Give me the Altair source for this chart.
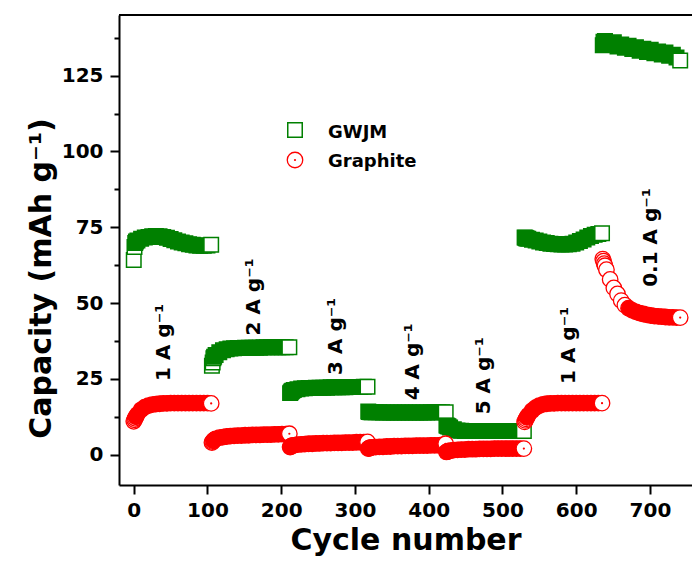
import altair as alt
import pandas as pd

GREEN = "#008000"
RED = "#ff0000"
FONT = "DejaVu Sans"

# ---- data ----
STAGE_LEN = 106
OFFSETS = [0, 1, 2, 3, 5, 10, 15, 20, 25, 30, 35, 40, 45, 50, 55, 60, 65, 70,
           75, 80, 85, 90, 95, 100, 105]

GWJM_S1 = [64.2, 68.5, 69.8, 70.3, 70.6, 71.2, 71.6, 71.8, 72.0, 72.1, 72.0, 71.8, 71.5,
           71.1, 70.7, 70.3, 70.0, 69.7, 69.4, 69.2, 69.0, 68.9, 68.9, 69.0, 69.2]
GWJM_S2 = [29.3, 30.4, 31.8, 32.3, 32.9, 33.8, 34.4, 34.8, 35.0, 35.1, 35.2, 35.2, 35.3,
           35.3, 35.3, 35.3, 35.3, 35.4, 35.4, 35.4, 35.4, 35.4, 35.4, 35.4, 35.4]
GWJM_S3 = [20.3, 20.6, 20.9, 21.1, 21.3, 21.6, 21.8, 21.9, 22.0, 22.0, 22.1, 22.1, 22.1,
           22.1, 22.2, 22.2, 22.2, 22.2, 22.2, 22.3, 22.3, 22.3, 22.3, 22.4, 22.4]
GWJM_S4 = [14.2, 14.1, 14.1, 14.0, 14.0, 14.0, 14.0, 13.9, 13.9, 13.9, 13.9, 13.9, 13.9,
           13.9, 13.9, 13.9, 13.9, 13.9, 13.9, 13.9, 14.0, 14.0, 14.0, 14.0, 14.0]
GWJM_S5 = [9.6, 9.5, 9.4, 9.3, 9.0, 8.4, 8.0, 7.9, 7.8, 7.8, 7.8, 7.8, 7.8,
           7.8, 7.8, 7.8, 7.8, 7.8, 7.8, 7.8, 7.8, 7.8, 7.8, 7.8, 7.8]
GWJM_S6 = [71.6, 71.5, 71.4, 71.3, 71.2, 70.9, 70.6, 70.3, 70.0, 69.8, 69.6, 69.5, 69.4,
           69.3, 69.3, 69.4, 69.6, 70.0, 70.5, 71.0, 71.6, 72.1, 72.5, 72.8, 73.0]
GWJM_S7 = [135.0, 136.2, 135.5, 136.4, 135.8, 135.2, 136.0, 134.6, 135.3, 134.2, 134.9, 133.8, 134.4,
           133.2, 133.9, 132.8, 133.5, 132.4, 133.0, 132.0, 132.6, 131.6, 131.9, 131.0, 130.0]

GRAPHITE_S1 = [11.0, 11.5, 12.0, 12.5, 13.3, 14.8, 15.7, 16.2, 16.5, 16.7, 16.8, 16.9, 16.9,
               17.0, 17.0, 17.0, 17.0, 17.0, 17.0, 17.0, 17.0, 17.0, 17.0, 17.0, 16.9]
GRAPHITE_S2 = [4.0, 4.3, 4.6, 4.9, 5.2, 5.6, 5.8, 6.0, 6.1, 6.2, 6.3, 6.3, 6.4,
               6.4, 6.5, 6.5, 6.5, 6.6, 6.6, 6.6, 6.7, 6.7, 6.8, 6.8, 6.9]
GRAPHITE_S3 = [2.5, 2.7, 2.9, 3.0, 3.1, 3.3, 3.4, 3.5, 3.6, 3.6, 3.7, 3.7, 3.8,
               3.8, 3.8, 3.9, 3.9, 3.9, 4.0, 4.0, 4.0, 4.1, 4.1, 4.1, 4.2]
GRAPHITE_S4 = [2.0, 2.1, 2.2, 2.3, 2.4, 2.5, 2.6, 2.6, 2.7, 2.7, 2.8, 2.8, 2.8,
               2.9, 2.9, 2.9, 3.0, 3.0, 3.0, 3.0, 3.1, 3.1, 3.1, 3.2, 3.6]
GRAPHITE_S5 = [0.9, 1.0, 1.1, 1.2, 1.3, 1.5, 1.6, 1.7, 1.7, 1.8, 1.8, 1.8, 1.9,
               1.9, 1.9, 1.9, 2.0, 2.0, 2.0, 2.0, 2.0, 2.0, 2.0, 2.0, 2.0]
GRAPHITE_S6 = [10.8, 11.3, 11.8, 12.3, 13.0, 14.5, 15.5, 16.2, 16.6, 16.8, 16.9, 16.9, 17.0,
               17.0, 17.0, 17.0, 17.0, 17.0, 17.0, 17.0, 17.0, 17.0, 17.0, 17.0, 17.0]
GRAPHITE_S7 = [64.5, 63.8, 63.0, 62.3, 61.0, 57.8, 55.0, 53.0, 50.8, 49.3, 48.3, 47.6, 47.1,
               46.7, 46.4, 46.1, 45.9, 45.7, 45.6, 45.5, 45.4, 45.3, 45.3, 45.2, 45.2]

GWJM = [GWJM_S1, GWJM_S2, GWJM_S3, GWJM_S4, GWJM_S5, GWJM_S6, GWJM_S7]
GRAPHITE = [GRAPHITE_S1, GRAPHITE_S2, GRAPHITE_S3, GRAPHITE_S4, GRAPHITE_S5, GRAPHITE_S6, GRAPHITE_S7]
# number of leading markers per stage whose open interior is still visible
GWJM_OPEN_START = [2, 3, 0, 0, 0, 0, 0]
GRAPHITE_OPEN_START = [3, 2, 0, 0, 0, 3, 10]

RATE_LABELS = ["1 A g⁻¹", "2 A g⁻¹", "3 A g⁻¹", "4 A g⁻¹", "5 A g⁻¹", "1 A g⁻¹", "0.1 A g⁻¹"]
RATE_X = [41, 163, 274, 378, 475, 590, 701]
RATE_Y = [37, 52, 39, 30.6, 26, 36, 71.6]

X_TICKS = [0, 50, 100, 150, 200, 250, 300, 350, 400, 450, 500, 550, 600, 650, 700, 750]
Y_TICKS = [0, 12.5, 25, 37.5, 50, 62.5, 75, 87.5, 100, 112.5, 125, 137.5]


def build(stages, opens, color):
    rows = []
    for k, vals in enumerate(stages):
        n = len(vals)
        for i, (off, v) in enumerate(zip(OFFSETS, vals)):
            is_open = i < opens[k] or i == n - 1
            rows.append({"cycle": STAGE_LEN * k + off, "value": v,
                         "fill": "white" if is_open else color,
                         "last": i == n - 1})
    return pd.DataFrame(rows)


df_g = build(GWJM, GWJM_OPEN_START, GREEN)
df_r = build(GRAPHITE, GRAPHITE_OPEN_START, RED)
df_dot = df_r[df_r["last"]]
df_lab = pd.DataFrame({"label": RATE_LABELS, "x": RATE_X, "y": RATE_Y})

W, H = 573, 470

x_enc = alt.X("cycle:Q",
              scale=alt.Scale(domain=[-20, 757], nice=False, zero=False),
              axis=alt.Axis(values=X_TICKS, title="Cycle number",
                            labelExpr="datum.value % 100 === 0 ? datum.label : ''",
                            tickSize={"condition": {"test": "datum.value % 100 === 0", "value": 9}, "value": 5},
                            tickWidth=2, domainWidth=2, domainColor="black", tickColor="black",
                            labelFont=FONT, labelFontSize=20, labelFontWeight="bold", labelColor="black",
                            labelPadding=6, grid=False,
                            titleFont=FONT, titleFontSize=30, titleFontWeight="bold", titleColor="black",
                            titleX=W / 2, titleY=64, titleAlign="center", titleBaseline="alphabetic"))
y_enc = alt.Y("value:Q",
              scale=alt.Scale(domain=[-10, 145], nice=False, zero=False),
              axis=alt.Axis(values=Y_TICKS, title="Capacity (mAh g⁻¹)",
                            labelExpr="datum.value % 25 === 0 ? datum.label : ''",
                            tickSize={"condition": {"test": "datum.value % 25 === 0", "value": 9}, "value": 5},
                            tickWidth=2, domainWidth=2, domainColor="black", tickColor="black",
                            labelFont=FONT, labelFontSize=20, labelFontWeight="bold", labelColor="black",
                            labelPadding=7, grid=False,
                            titleFont=FONT, titleFontSize=30, titleFontWeight="bold", titleColor="black",
                            titleAngle=270, titleX=-69, titleY=263, titleAlign="center",
                            titleBaseline="alphabetic"))

green = alt.Chart(df_g).mark_point(shape="square", size=210, filled=True, opacity=1,
                                   stroke=GREEN, strokeWidth=1.5).encode(
    x=x_enc, y=y_enc, fill=alt.Fill("fill:N", scale=None))
red = alt.Chart(df_r).mark_point(shape="circle", size=240, filled=True, opacity=1,
                                 stroke=RED, strokeWidth=1.3).encode(
    x=x_enc, y=y_enc, fill=alt.Fill("fill:N", scale=None))
dots = alt.Chart(df_dot).mark_point(shape="circle", size=5, filled=True, opacity=1,
                                    color=RED).encode(x=x_enc, y=y_enc)

labels = alt.Chart(df_lab).mark_text(angle=270, font=FONT, fontSize=20, fontWeight="bold",
                                     align="center", baseline="middle", color="black").encode(
    x=alt.X("x:Q", scale=alt.Scale(domain=[-20, 757], nice=False, zero=False)),
    y=alt.Y("y:Q", scale=alt.Scale(domain=[-10, 145], nice=False, zero=False)),
    text="label:N")

top_border = alt.Chart(pd.DataFrame({"a": [0]})).mark_rule(color="black", strokeWidth=2).encode(
    x=alt.value(0), x2=alt.value(W), y=alt.value(0))

leg_sq = alt.Chart(pd.DataFrame({"a": [0]})).mark_point(
    shape="square", size=210, filled=True, fill="white", stroke=GREEN, strokeWidth=1.5, opacity=1
).encode(x=alt.value(176), y=alt.value(115))
leg_ci = alt.Chart(pd.DataFrame({"a": [0]})).mark_point(
    shape="circle", size=240, filled=True, fill="white", stroke=RED, strokeWidth=1.3, opacity=1
).encode(x=alt.value(176), y=alt.value(145))
leg_dot = alt.Chart(pd.DataFrame({"a": [0]})).mark_point(
    shape="circle", size=5, filled=True, color=RED, opacity=1
).encode(x=alt.value(176), y=alt.value(145))
leg_t1 = alt.Chart(pd.DataFrame({"a": [0]})).mark_text(
    text="GWJM", font=FONT, fontSize=18, fontWeight="bold", align="left", baseline="alphabetic",
    color="black").encode(x=alt.value(209), y=alt.value(123))
leg_t2 = alt.Chart(pd.DataFrame({"a": [0]})).mark_text(
    text="Graphite", font=FONT, fontSize=18, fontWeight="bold", align="left", baseline="alphabetic",
    color="black").encode(x=alt.value(209), y=alt.value(152))

chart = alt.layer(green, red, dots, labels, top_border, leg_sq, leg_ci, leg_dot, leg_t1, leg_t2).properties(
    width=W, height=H,
    padding={"left": 119, "top": 15, "right": 0, "bottom": 79},
    autosize=alt.AutoSizeParams(type="none"),
    background="white",
).configure_view(stroke="transparent")

chart.save("out.html", embed_options={"renderer": "svg", "actions": False})
